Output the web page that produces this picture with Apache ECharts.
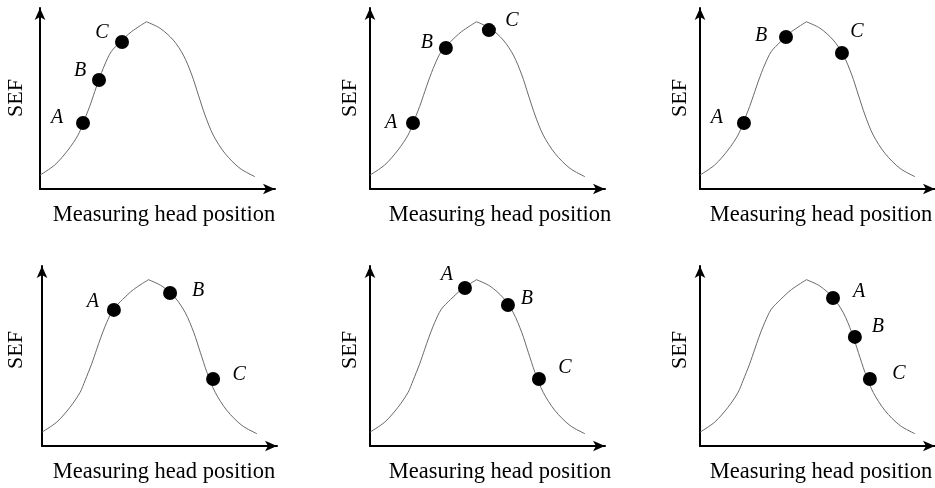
<!DOCTYPE html>
<html><head><meta charset="utf-8">
<script src="https://cdn.jsdelivr.net/npm/echarts@6/dist/echarts.min.js"></script>
<style>html,body{margin:0;padding:0;background:#fff}#c{width:935px;height:488px}</style>
</head><body><div id="c"></div>
<script>
// Shared SEF response curve (arbitrary units)
const curveX = [0, 6.3, 11.9, 16.2, 18.3, 21.1, 23.3, 25.0, 27.5, 30.3, 34.3, 38.9, 45.3, 51.1, 56.7, 61.0, 64.6, 67.4, 70.2, 73.7, 78.7, 85.1, 91.5];
const curveY = [7.7, 13.3, 21.5, 29.8, 36.3, 45.5, 53.8, 60.2, 68.5, 75.9, 81.4, 86.9, 92.4, 88.8, 82.3, 74.0, 63.0, 51.9, 40.9, 29.8, 19.7, 11.4, 6.8];
const peakIndex = 12;
// Measuring points A, B, C for each of the six panels
const pointNames = ['A', 'B', 'C'];
const panelPointsX = [[18.3, 25.1, 34.9], [18.3, 32.3, 50.6], [18.7, 36.6, 60.4], [30.6, 54.5, 72.8], [40.4, 58.7, 71.9], [56.6, 65.9, 72.3]];
const panelPointsY = [[36.5, 60.2, 81.2], [36.5, 77.9, 87.8], [36.5, 84.0, 75.1], [75.6, 85.0, 37.2], [87.8, 78.3, 37.2], [82.2, 60.6, 37.2]];
const xAxisTitle = 'Measuring head position';
const yAxisTitle = 'SEF';

// layout (pixels)
const AX_MAX = 100;
const panels = [
  {left: 40, top: 189, sx: 2.35, sy: 1.81},
  {left: 370, top: 189, sx: 2.35, sy: 1.81},
  {left: 700, top: 189, sx: 2.35, sy: 1.81},
  {left: 42, top: 446, sx: 2.35, sy: 1.80},
  {left: 370, top: 446, sx: 2.35, sy: 1.80},
  {left: 700, top: 446, sx: 2.35, sy: 1.80}
];
const labelOffsets = [
  [[-26, -5], [-19, -9], [-20, -9]],
  [[-22, 0], [-19, -5], [23, -9]],
  [[-27, -5], [-25, -1], [15, -21]],
  [[-21, -8], [28, -2], [26, -4]],
  [[-18, -13], [19, -6], [26, -11]],
  [[26, -6], [23, -10], [29, -5]]
];
const xTitlePos = [[164, 215], [500, 215], [821, 215], [164, 472], [500, 472], [821, 472]];
const yTitlePos = [[16, 98], [350, 98], [680, 98], [16, 350], [350, 350], [680, 350]];

const grids = [], xAxes = [], yAxes = [], series = [], graphics = [];
const axisLine = {show: true, lineStyle: {color: '#000', width: 2}, symbol: ['none', 'arrow'], symbolSize: [8, 12]};
const leftHalf = curveX.slice(0, peakIndex + 1).map((x, i) => [x, curveY[i]]);
const rightHalf = curveX.slice(peakIndex).map((x, i) => [x, curveY[i + peakIndex]]);

panels.forEach((p, k) => {
  const w = AX_MAX * p.sx, h = AX_MAX * p.sy;
  grids.push({left: p.left, top: p.top - h, width: w, height: h});
  const common = {type: 'value', min: 0, max: AX_MAX, gridIndex: k, axisLine: axisLine,
    axisTick: {show: false}, axisLabel: {show: false}, splitLine: {show: false}};
  xAxes.push(Object.assign({}, common));
  yAxes.push(Object.assign({}, common));
  [leftHalf, rightHalf].forEach(d => series.push({
    type: 'line', xAxisIndex: k, yAxisIndex: k, data: d, smooth: 0.3, showSymbol: false,
    lineStyle: {color: '#6a6a6a', width: 1}, silent: true, z: 2
  }));
  series.push({
    type: 'scatter', xAxisIndex: k, yAxisIndex: k, symbolSize: 14, z: 3,
    itemStyle: {color: '#000', opacity: 1},
    data: pointNames.map((n, i) => ({
      value: [panelPointsX[k][i], panelPointsY[k][i]], name: n,
      label: {show: true, formatter: n, position: 'inside', offset: labelOffsets[k][i],
        color: '#000', fontFamily: 'Liberation Serif', fontStyle: 'italic', fontSize: 20}
    }))
  });
  graphics.push({type: 'text', x: xTitlePos[k][0], y: xTitlePos[k][1],
    style: {text: xAxisTitle, fill: '#000', font: '22.5px "Liberation Serif"', textAlign: 'center', textVerticalAlign: 'middle'}});
  graphics.push({type: 'text', x: yTitlePos[k][0], y: yTitlePos[k][1], rotation: Math.PI / 2,
    style: {text: yAxisTitle, fill: '#000', font: '22px "Liberation Serif"', textAlign: 'center', textVerticalAlign: 'middle'}});
});

const chart = echarts.init(document.getElementById('c'), null, {renderer: 'canvas'});
chart.setOption({backgroundColor: '#fff', animation: false, grid: grids, xAxis: xAxes, yAxis: yAxes, series: series, graphic: graphics});
</script></body></html>
